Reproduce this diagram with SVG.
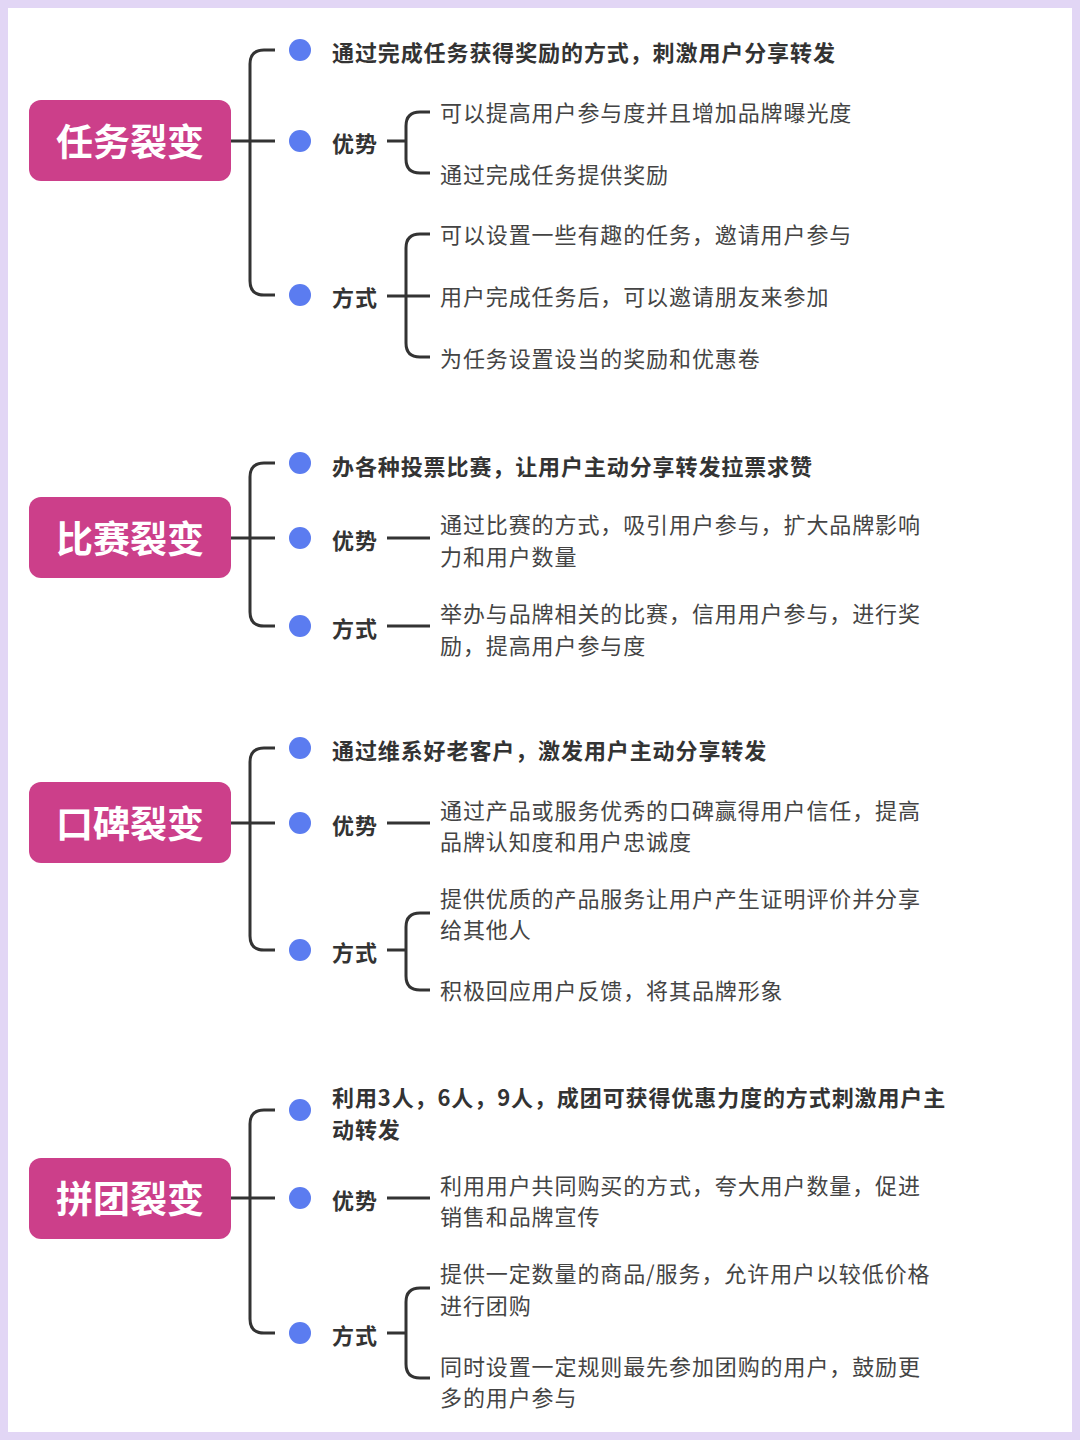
<svg xmlns="http://www.w3.org/2000/svg" width="1080" height="1440" viewBox="0 0 1080 1440">
<style>
.ln{fill:none;stroke:#333;stroke-width:3}
.dot{fill:#5b7cf0}
.box{fill:#cc3f8a}
.bt{font-family:"Noto Sans CJK SC",sans-serif;font-weight:bold;font-size:37px;fill:#fff;text-anchor:middle;dominant-baseline:central}
.b{font-family:"Noto Sans CJK SC",sans-serif;font-weight:bold;font-size:22px;letter-spacing:0.9px;fill:#333;dominant-baseline:central}
.t{font-family:"Noto Sans CJK SC",sans-serif;font-size:22px;letter-spacing:0.9px;fill:#444;dominant-baseline:central}
</style>
<rect width="1080" height="1440" fill="#e2d6f5"/>
<rect x="8" y="8" width="1064" height="1424" fill="#fff"/>
<g id="connectors">
<path class="ln" d="M231,141H275M275,50H264Q250,50 250,64V281Q250,295 264,295H275M387,141H406M430,112H420Q406,112 406,126V159Q406,173 420,173H430M387,296H430M430,234H420Q406,234 406,248V343Q406,357 420,357H430"/>
<path class="ln" d="M231,538H275M275,463H264Q250,463 250,477V612Q250,626 264,626H275M387,538H430M387,626H430"/>
<path class="ln" d="M231,823H275M275,748H264Q250,748 250,762V936Q250,950 264,950H275M387,823H430M387,950H406M430,913H420Q406,913 406,927V976Q406,990 420,990H430"/>
<path class="ln" d="M231,1198H275M275,1110H264Q250,1110 250,1124V1319Q250,1333 264,1333H275M387,1198H430M387,1333H406M430,1288H420Q406,1288 406,1302V1364Q406,1378 420,1378H430"/>
</g>
<g id="s1">
<rect class="box" x="29" y="100" width="202" height="81" rx="12"/><text class="bt" x="130" y="140">任务裂变</text>
<circle class="dot" cx="300" cy="50" r="11"/><text class="b" x="332" y="51">通过完成任务获得奖励的方式，刺激用户分享转发</text>
<circle class="dot" cx="300" cy="141" r="11"/><text class="b" x="332" y="142">优势</text>
<text class="t" x="440" y="111">可以提高用户参与度并且增加品牌曝光度</text>
<text class="t" x="440" y="173">通过完成任务提供奖励</text>
<circle class="dot" cx="300" cy="295" r="11"/><text class="b" x="332" y="296">方式</text>
<text class="t" x="440" y="233">可以设置一些有趣的任务，邀请用户参与</text>
<text class="t" x="440" y="295">用户完成任务后，可以邀请朋友来参加</text>
<text class="t" x="440" y="357">为任务设置设当的奖励和优惠卷</text>
</g>
<g id="s2">
<rect class="box" x="29" y="497" width="202" height="81" rx="12"/><text class="bt" x="130" y="537">比赛裂变</text>
<circle class="dot" cx="300" cy="463" r="11"/><text class="b" x="332" y="465">办各种投票比赛，让用户主动分享转发拉票求赞</text>
<circle class="dot" cx="300" cy="538" r="11"/><text class="b" x="332" y="539">优势</text>
<text class="t" x="440" y="523">通过比赛的方式，吸引用户参与，扩大品牌影响</text>
<text class="t" x="440" y="555">力和用户数量</text>
<circle class="dot" cx="300" cy="626" r="11"/><text class="b" x="332" y="627">方式</text>
<text class="t" x="440" y="612">举办与品牌相关的比赛，信用用户参与，进行奖</text>
<text class="t" x="440" y="644">励，提高用户参与度</text>
</g>
<g id="s3">
<rect class="box" x="29" y="782" width="202" height="81" rx="12"/><text class="bt" x="130" y="822">口碑裂变</text>
<circle class="dot" cx="300" cy="748" r="11"/><text class="b" x="332" y="749">通过维系好老客户，激发用户主动分享转发</text>
<circle class="dot" cx="300" cy="823" r="11"/><text class="b" x="332" y="824">优势</text>
<text class="t" x="440" y="809">通过产品或服务优秀的口碑赢得用户信任，提高</text>
<text class="t" x="440" y="840">品牌认知度和用户忠诚度</text>
<circle class="dot" cx="300" cy="950" r="11"/><text class="b" x="332" y="951">方式</text>
<text class="t" x="440" y="897">提供优质的产品服务让用户产生证明评价并分享</text>
<text class="t" x="440" y="928">给其他人</text>
<text class="t" x="440" y="989">积极回应用户反馈，将其品牌形象</text>
</g>
<g id="s4">
<rect class="box" x="29" y="1158" width="202" height="81" rx="12"/><text class="bt" x="130" y="1197">拼团裂变</text>
<circle class="dot" cx="300" cy="1110" r="11"/><text class="b" x="332" y="1096">利用3人，6人，9人，成团可获得优惠力度的方式刺激用户主</text>
<text class="b" x="332" y="1128">动转发</text>
<circle class="dot" cx="300" cy="1198" r="11"/><text class="b" x="332" y="1199">优势</text>
<text class="t" x="440" y="1184">利用用户共同购买的方式，夸大用户数量，促进</text>
<text class="t" x="440" y="1215">销售和品牌宣传</text>
<circle class="dot" cx="300" cy="1333" r="11"/><text class="b" x="332" y="1334">方式</text>
<text class="t" x="440" y="1272">提供一定数量的商品/服务，允许用户以较低价格</text>
<text class="t" x="440" y="1304">进行团购</text>
<text class="t" x="440" y="1365">同时设置一定规则最先参加团购的用户，鼓励更</text>
<text class="t" x="440" y="1396">多的用户参与</text>
</g>
</svg>
